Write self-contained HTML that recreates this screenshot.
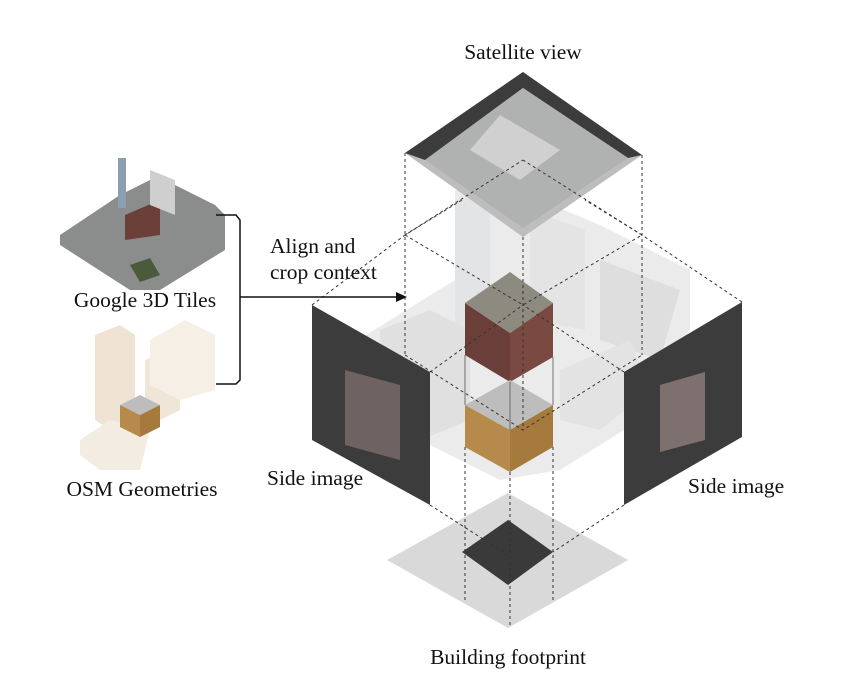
<!DOCTYPE html>
<html><head><meta charset="utf-8"><style>
html,body{margin:0;padding:0;background:#fff;}
svg{display:block;}
text{font-family:"Liberation Serif",serif;font-size:21.5px;fill:#111;}
</style></head><body>
<svg width="864" height="698" viewBox="0 0 864 698" xmlns="http://www.w3.org/2000/svg">
<!-- faded context city -->
<polygon points="350,345 455,280 455,190 540,200 600,225 690,270 690,330 640,420 560,470 500,480 420,440 360,395" fill="#ebebeb"/>
<polygon points="455,200 490,195 490,330 455,340" fill="#e2e4e6"/>
<polygon points="530,210 585,230 585,330 530,320" fill="#e4e4e4"/>
<polygon points="600,260 680,290 660,360 600,340" fill="#dedede"/>
<polygon points="380,330 430,310 470,330 470,420 420,440 380,400" fill="#e0e0e0"/>
<polygon points="560,370 630,340 650,390 600,430 560,420" fill="#e3e3e3"/>
<!-- footprint -->
<polygon points="508,493 628,560 508,628 387,560" fill="#d9d9d9"/>
<polygon points="508,520 553,552 508,585 462,552" fill="#3a3a3a"/>
<!-- satellite view -->
<polygon points="523,72 642,155 523,237 405,153" fill="#bdbdbd"/>
<polygon points="523,72 642,155 628,158 523,88 425,160 405,153" fill="#3c3c3c"/>
<polygon points="523,88 628,158 523,228 425,160" fill="#b0b2b2"/>
<polygon points="500,115 560,150 520,180 470,150" fill="#d0d0d0"/>
<!-- side panels -->
<polygon points="312,305 430,372 430,505 312,440" fill="#3c3c3c"/>
<polygon points="345,370 400,385 400,460 345,445" fill="#6e6262"/>
<polygon points="624,372 742,302 742,437 624,505" fill="#3c3c3c"/>
<polygon points="660,385 705,372 705,440 660,452" fill="#7e706e"/>
<!-- central building -->
<polygon points="465,303 510,333 510,382 465,355" fill="#6a3f3a"/>
<polygon points="510,333 553,303 553,357 510,382" fill="#7a4a42"/>
<polygon points="510,272 553,303 510,333 465,303" fill="#8d8a80"/>
<!-- brown box -->
<polygon points="465,405 510,380 553,405 510,430" fill="#bdbdbd"/>
<polygon points="465,405 510,430 510,472 465,447" fill="#b58a4a"/>
<polygon points="510,430 553,405 553,447 510,472" fill="#a67a3c"/>
<!-- dashed wireframe -->
<g stroke="#333" stroke-width="1" stroke-dasharray="3,3" fill="none">
<line x1="405" y1="153" x2="405" y2="355"/>
<line x1="642" y1="155" x2="642" y2="355"/>
<line x1="523" y1="237" x2="523" y2="430"/>
<polyline points="405,355 523,430 642,355"/>
<polyline points="405,235 523,305 642,235"/>
<polyline points="312,305 405,235 462,200"/>
<polyline points="742,302 642,235 585,200"/>
<polyline points="405,235 523,160"/>
<polyline points="642,235 523,160"/>
<line x1="430" y1="505" x2="508" y2="555"/>
<line x1="624" y1="505" x2="553" y2="552"/>
<line x1="430" y1="372" x2="523" y2="305"/>
<line x1="624" y1="372" x2="523" y2="305"/>
<line x1="465" y1="447" x2="465" y2="600"/>
<line x1="553" y1="447" x2="553" y2="600"/>
<line x1="510" y1="472" x2="510" y2="628"/>
</g>
<g stroke="#555" stroke-width="0.8" fill="none">
<line x1="465" y1="355" x2="465" y2="405"/>
<line x1="553" y1="357" x2="553" y2="405"/>
<line x1="510" y1="382" x2="510" y2="430"/>
</g>
<!-- Google 3D tiles -->
<polygon points="60,235 120,195 150,180 175,185 215,205 225,215 225,250 160,290 130,290 60,245" fill="#8b8d8c"/>
<rect x="118" y="158" width="8" height="50" fill="#8aa0b0"/>
<polygon points="125,215 160,200 160,235 125,240" fill="#6a4038"/>
<polygon points="150,170 175,180 175,215 150,205" fill="#cfcfcf"/>
<polygon points="130,265 150,258 160,275 140,282" fill="#4a5a3a"/>
<!-- OSM geometries -->
<polygon points="95,335 120,325 135,335 135,420 110,430 95,420" fill="#efe4d4"/>
<polygon points="145,360 170,350 180,360 180,410 160,420 145,410" fill="#f0e6d8"/>
<polygon points="150,340 185,320 215,335 215,390 180,400 150,385" fill="#f5efe6"/>
<polygon points="80,440 110,420 150,430 140,470 100,470 80,455" fill="#f3ece2"/>
<polygon points="120,405 140,395 160,405 140,415" fill="#bdbdbd"/>
<polygon points="120,405 140,415 140,437 120,427" fill="#b58a4a"/>
<polygon points="140,415 160,405 160,427 140,437" fill="#a67a3c"/>
<!-- bracket and arrow -->
<g stroke="#111" stroke-width="1.5" fill="none">
<polyline points="216,215 236,215 240,220 240,380 236,384 216,384"/>
<line x1="240" y1="297" x2="398" y2="297"/>
</g>
<polygon points="407,297 396,292 396,302" fill="#111"/>
<!-- labels -->
<text x="523" y="59" text-anchor="middle">Satellite view</text>
<text x="270" y="253">Align and</text>
<text x="270" y="279">crop context</text>
<text x="145" y="307" text-anchor="middle">Google 3D Tiles</text>
<text x="142" y="496" text-anchor="middle">OSM Geometries</text>
<text x="267" y="485">Side image</text>
<text x="688" y="493">Side image</text>
<text x="508" y="664" text-anchor="middle">Building footprint</text>
</svg>
</body></html>
